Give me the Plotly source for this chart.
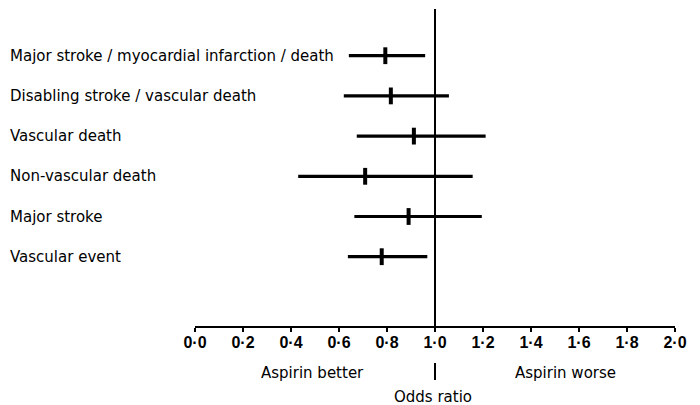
import plotly.graph_objects as go

# ---- data ----
outcomes = [
    "Major stroke / myocardial infarction / death",
    "Disabling stroke / vascular death",
    "Vascular death",
    "Non-vascular death",
    "Major stroke",
    "Vascular event",
]
odds_ratio = [0.793, 0.816, 0.912, 0.709, 0.890, 0.778]
ci_low = [0.641, 0.620, 0.674, 0.430, 0.664, 0.637]
ci_high = [0.959, 1.058, 1.211, 1.157, 1.195, 0.968]
tick_values = [0.0, 0.2, 0.4, 0.6, 0.8, 1.0, 1.2, 1.4, 1.6, 1.8, 2.0]
tick_labels = ["0·0", "0·2", "0·4", "0·6", "0·8", "1·0", "1·2", "1·4", "1·6", "1·8", "2·0"]
ref_value = 1.0

XMIN, XMAX = 0.0, 2.0
rows = list(range(1, len(outcomes) + 1))

fig = go.Figure()
fig.add_trace(go.Scatter(
    x=odds_ratio, y=rows, mode="markers",
    marker=dict(symbol="line-ns", size=12, color="black",
                line=dict(color="black", width=4)),
    error_x=dict(type="data", symmetric=False,
                 array=[h - m for h, m in zip(ci_high, odds_ratio)],
                 arrayminus=[m - l for m, l in zip(odds_ratio, ci_low)],
                 color="black", thickness=3.2, width=0),
    showlegend=False, hoverinfo="skip",
))

LABEL_FONT = dict(family="DejaVu Sans", size=15, color="black")

annotations = []
for r, name in zip(rows, outcomes):
    annotations.append(dict(
        x=-0.389, xref="paper", y=r, yref="y", text=name, showarrow=False,
        xanchor="left", yanchor="middle", font=LABEL_FONT,
    ))
annotations += [
    dict(x=0.49, xref="x", y=-0.147, yref="paper", text="Aspirin better",
         showarrow=False, xanchor="center", yanchor="middle", font=LABEL_FONT),
    dict(x=1.543, xref="x", y=-0.147, yref="paper", text="Aspirin worse",
         showarrow=False, xanchor="center", yanchor="middle", font=LABEL_FONT),
    dict(x=0.992, xref="x", y=-0.223, yref="paper", text="Odds ratio",
         showarrow=False, xanchor="center", yanchor="middle", font=LABEL_FONT),
]

ref_paper = (ref_value - XMIN) / (XMAX - XMIN)
shapes = [
    dict(type="line", xref="x", yref="paper", x0=ref_value, x1=ref_value,
         y0=0, y1=1, line=dict(color="black", width=2)),
    dict(type="line", xref="paper", yref="paper", x0=ref_paper, x1=ref_paper,
         y0=-0.1167, y1=-0.1703, line=dict(color="black", width=2)),
]

# page body has an 8px margin, so the figure is 8px smaller each way
fig.update_layout(
    width=692, height=397,
    margin=dict(l=187, r=25, t=1, b=79),
    paper_bgcolor="white", plot_bgcolor="white",
    xaxis=dict(range=[XMIN, XMAX], tickvals=tick_values, ticktext=tick_labels,
               showgrid=False, zeroline=False, showline=True, linecolor="black",
               linewidth=2, ticks="outside", ticklen=4, tickwidth=2, tickcolor="black",
               ticklabelstandoff=-3,
               tickfont=dict(family="Liberation Sans", size=16, color="black", weight="bold")),
    yaxis=dict(range=[7.724, -0.162], showgrid=False, zeroline=False,
               showline=False, showticklabels=False, ticks=""),
    annotations=annotations, shapes=shapes,
)

fig.write_html("out.html")
